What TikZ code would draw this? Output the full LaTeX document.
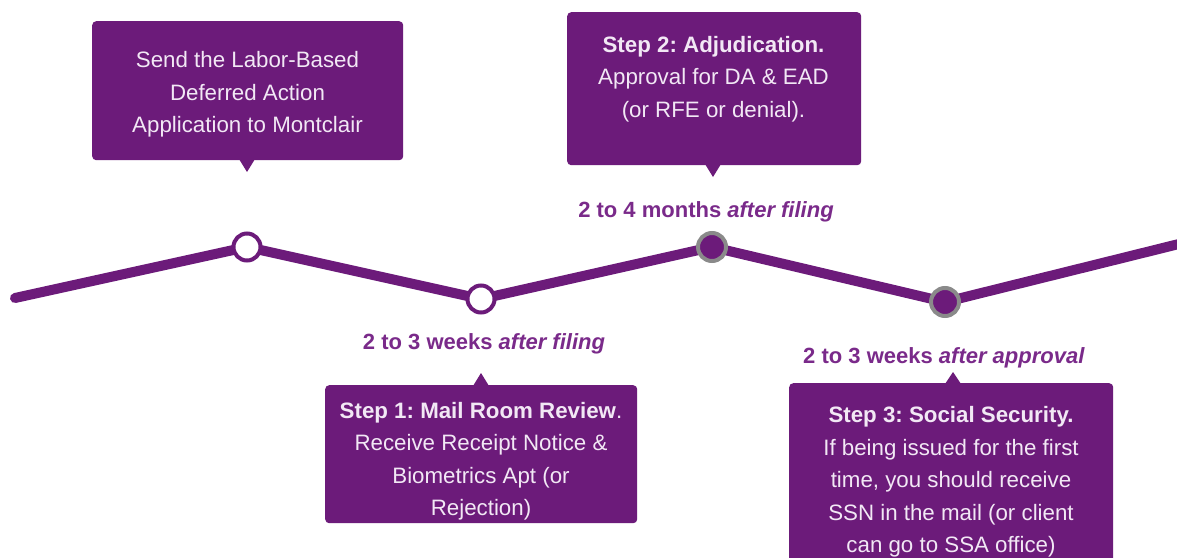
\documentclass[tikz,border=0pt]{standalone}
\usepackage{fontspec}
\setmainfont{Liberation Sans}
\frenchspacing
\definecolor{pur}{HTML}{6C1B7A}
\definecolor{labpur}{HTML}{7A2A8A}
\definecolor{txt}{HTML}{F2E8F5}
\definecolor{ring}{HTML}{8A8A8A}
\begin{document}
\begin{tikzpicture}[x=1pt,y=-1pt,
  box/.style={fill=pur, rounded corners=4pt, inner sep=0pt, anchor=north west},
  boxtext/.style={text=txt, align=center, font=\fontsize{22.3}{32.5}\selectfont, inner sep=0pt},
  lab/.style={text=labpur, font=\bfseries\fontsize{22}{24}\selectfont, inner sep=0pt},
  opendot/.style={circle, fill=white, draw=pur, line width=4pt, minimum size=27pt, inner sep=0pt},
  fulldot/.style={circle, fill=pur, draw=ring, line width=4pt, minimum size=28pt, inner sep=0pt},
  tl/.style={pur, line width=10pt, line cap=round, line join=round}]
\useasboundingbox (0,0) rectangle (1177,557);
\fill[white] (0,0) rectangle (1177,557);
% timeline
\coordinate (s) at (15,298);
\coordinate (p1) at (247,247);
\coordinate (p2) at (481,299);
\coordinate (p3) at (712,247);
\coordinate (p4) at (945,302);
\coordinate (e) at (1195,240);
\draw[tl] (s) -- (p1) -- (p2) -- (p3) -- (p4) -- (e);
\node[opendot] (c1) at (p1) {};
\node[opendot] (c2) at (p2) {};
\node[fulldot] (c3) at (p3) {};
\node[fulldot] (c4) at (p4) {};
% box 0
\node[box, minimum width=311pt, minimum height=139pt] (b0) at (92,21) {};
\fill[pur] (239,159) -- (247,172) -- (255,159) -- cycle;
\node[boxtext] (t0) at (247.5,94.5) {Send the Labor-Based\\Deferred Action\\Application to Montclair};
% box 2
\node[box, minimum width=294pt, minimum height=153pt] (b2) at (567,12) {};
\fill[pur] (705,164) -- (713,177) -- (721,164) -- cycle;
\node[boxtext] (t2) at (713.5,79) {\textbf{Step 2: Adjudication.}\\Approval for DA \& EAD\\(or RFE or denial).};
% box 1
\node[box, minimum width=312pt, minimum height=138pt] (b1) at (325,385) {};
\fill[pur] (473,386) -- (481,373) -- (489,386) -- cycle;
\node[boxtext] (t1) at (481,461) {\textbf{Step 1: Mail Room Review}.\\Receive Receipt Notice \&\\Biometrics Apt (or\\Rejection)};
% box 3
\node[box, minimum width=324pt, minimum height=190pt] (b3) at (789,383) {};
\fill[pur] (945,384) -- (953,372) -- (961,384) -- cycle;
\node[boxtext] (t3) at (951,482) {\textbf{Step 3: Social Security.}\\If being issued for the first\\time, you should receive\\SSN in the mail (or client\\can go to SSA office)};
% labels
\node[lab] (l3) at (706,212) {2 to 4 months \textit{after filing}};
\node[lab] (l2) at (484,344) {2 to 3 weeks \textit{after filing}};
\node[lab] (l4) at (944,358) {2 to 3 weeks \textit{after approval}};
\end{tikzpicture}
\end{document}
